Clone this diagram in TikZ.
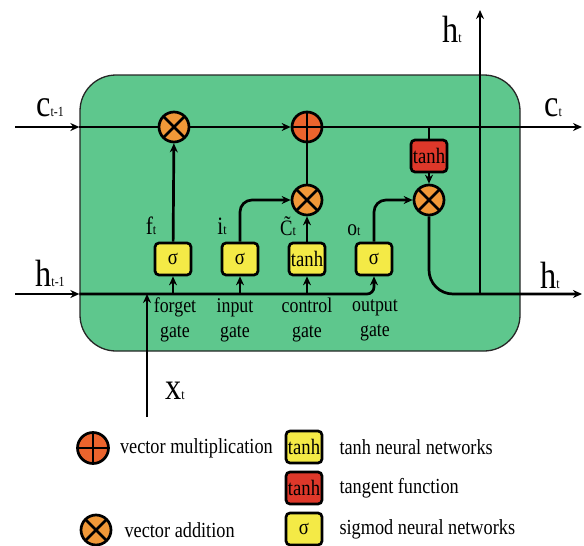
\documentclass[tikz,border=0pt]{standalone}
\usepackage{fontspec}
\setmainfont{Liberation Serif}[FakeStretch=0.85]
\usetikzlibrary{arrows.meta, positioning}
\definecolor{cellgreen}{RGB}{94,199,141}
\definecolor{mulorange}{RGB}{240,152,56}
\definecolor{addred}{RGB}{236,100,45}
\definecolor{gateyellow}{RGB}{244,234,70}
\definecolor{tanhred}{RGB}{222,56,42}
\newcommand{\smallidx}[1]{{\fontsize{14}{14}\selectfont #1}}
\tikzstyle{cellbox} = [rectangle, rounded corners=36pt, draw=black!85, line width=1.3pt, fill=cellgreen]
\tikzstyle{sigbox} = [rectangle, rounded corners=4pt, minimum width=36pt, minimum height=32pt, inner sep=0pt, draw=black, line width=2.7pt, fill=gateyellow, font=\fontsize{22}{22}\selectfont]
\tikzstyle{tanhbox} = [sigbox, fill=tanhred]
\tikzstyle{opmul} = [circle, minimum size=30pt, inner sep=0pt, draw=black, line width=2.7pt, fill=mulorange,
  path picture={\draw[line width=2.7pt] (path picture bounding box.south west) -- (path picture bounding box.north east)
    (path picture bounding box.north west) -- (path picture bounding box.south east);}]
\tikzstyle{opadd} = [opmul, fill=addred,
  path picture={\draw[line width=2.7pt] (path picture bounding box.north) -- (path picture bounding box.south)
    (path picture bounding box.west) -- (path picture bounding box.east);}]
\tikzstyle{bigvar} = [inner sep=0pt, font=\fontsize{38}{38}\selectfont]
\tikzstyle{gatevar} = [inner sep=0pt, font=\fontsize{25}{25}\selectfont]
\tikzstyle{gatename} = [inner sep=0pt, align=center, font=\fontsize{21}{25}\selectfont]
\tikzstyle{legendtext} = [inner sep=0pt, anchor=west, font=\fontsize{21.5}{22}\selectfont]
\tikzstyle{wire} = [line width=2.7pt]
\tikzstyle{arrow} = [line width=2.7pt, -{Stealth[length=9pt,width=8pt]}]

\begin{document}
\begin{tikzpicture}[x=1pt, y=-1pt]
    \useasboundingbox (0,0) rectangle (584,546);
    \node (cell) [cellbox, minimum width=440pt, minimum height=276pt] at (300,213) {};

    % ends of the lines
    \coordinate (cin) at (15,127);
    \coordinate (cout) at (582,127);
    \coordinate (hin) at (15,294);
    \coordinate (hout) at (582,294);
    \coordinate (hsplit) at (480,294);
    \coordinate (htop) at (480,10);
    \coordinate (xin) at (147,417);

    \node (fmul) [opmul] at (174,127) {};
    \node (cadd) [opadd] at (307,127) {};
    \node (imul) [opmul] at (307,200) {};
    \node (omul) [opmul] at (429,200) {};
    \node (tanhc) [tanhbox] at (429,156) {tanh};
    \node (fgate) [sigbox] at (173,259) {σ};
    \node (igate) [sigbox] at (240,259) {σ};
    \node (cgate) [sigbox] at (307,259) {tanh};
    \node (ogate) [sigbox] at (374,259) {σ};

    % cell state
    \draw [arrow] (cin) -- (cin -| cell.west);
    \draw [wire] (cin -| cell.west) -- (fmul);
    \draw [arrow] (fmul) -- (cadd);
    \draw [arrow] (cadd) -- (cout);
    \draw [wire] (tanhc.north) -- (tanhc.north |- cadd);
    \draw [arrow] (tanhc) -- (omul);
    \draw [wire] (imul) -- (cadd);

    % hidden state and gates
    \draw [arrow] (hin) -- (hin -| cell.west);
    \draw [arrow, rounded corners=7pt] (hin -| cell.west) -| (ogate.south);
    \draw [arrow] (fgate |- hin) -- (fgate.south);
    \draw [arrow] (igate |- hin) -- (igate.south);
    \draw [arrow] (cgate |- hin) -- (cgate.south);
    \draw [arrow] (xin) -- (xin |- hin);
    \draw [arrow] (fgate) -- (fmul);
    \draw [arrow] (cgate) -- (imul);
    \draw [arrow, rounded corners=12pt] (igate.north) |- (imul);
    \draw [arrow, rounded corners=12pt] (ogate.north) |- (omul);
    \draw [arrow, rounded corners=24pt] (omul) |- (hout);
    \draw [arrow] (hsplit) -- (htop);

    % labels
    \node (cinlab) [bigvar] at (50,108) {c\smallidx{t-1}};
    \node (coutlab) [bigvar] at (553,108) {c\smallidx{t}};
    \node (htoplab) [bigvar] at (452,29) {h\smallidx{t}};
    \node (hinlab) [bigvar] at (50,273) {h\smallidx{t-1}};
    \node (houtlab) [bigvar] at (550,275) {h\smallidx{t}};
    \node (xlab) [bigvar] at (175,391) {x\smallidx{t}};
    \node (flab) [gatevar] at (151,226) {f\smallidx{t}};
    \node (ilab) [gatevar] at (222,226) {i\smallidx{t}};
    \node (clab) [gatevar, font=\fontsize{22}{22}\selectfont] at (288,226) {\~{C}\smallidx{t}};
    \node (olab) [gatevar, font=\fontsize{23}{23}\selectfont] at (354,230) {o\smallidx{t}};
    \node (fname) [gatename] at (175,320) {forget\\gate};
    \node (iname) [gatename] at (235,320) {input\\gate};
    \node (cname) [gatename] at (307,320) {control\\gate};
    \node (oname) [gatename] at (375,320) {output\\gate};

    % legend
    \node (lgadd) [opadd, minimum size=31pt] at (93,448) {};
    \node (lgmul) [opmul] at (96,530) {};
    \node (lgtanh) [sigbox] at (304,447) {tanh};
    \node (lgred) [tanhbox] at (304,488) {tanh};
    \node (lgsig) [sigbox] at (304,529) {σ};
    \node (txtadd) [legendtext, right=10pt of lgadd] {vector multiplication};
    \node (txtmul) [legendtext, right=12pt of lgmul] {vector addition};
    \node (txttanh) [legendtext, right=16pt of lgtanh] {tanh neural networks};
    \node (txtred) [legendtext, right=16pt of lgred] {tangent function};
    \node (txtsig) [legendtext, right=16pt of lgsig] {sigmod neural networks};
\end{tikzpicture}
\end{document}
